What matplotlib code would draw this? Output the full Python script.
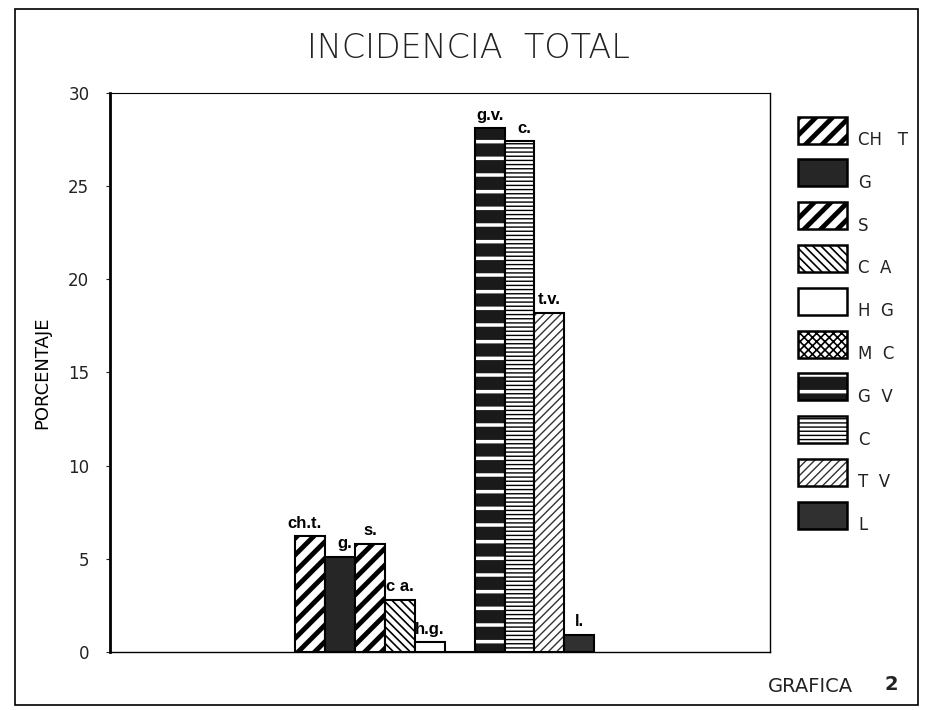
import numpy as np
import matplotlib
matplotlib.use("Agg")
import matplotlib.pyplot as plt
from matplotlib.patches import Rectangle

legend_labels = ["CH   T", "G", "S", "C  A", "H  G", "M  C", "G  V", "C", "T  V", "L"]
bar_labels = ["ch.t.", "g.", "s.", "c a.", "h.g.", "", "g.v.", "c.", "t.v.", "l."]
values = [6.2, 5.1, 5.8, 2.8, 0.5, 0.0, 28.1, 27.4, 18.2, 0.9]

# fill style per category
faces = ["white", "#262626", "white", "white", "white", "white", "#1a1a1a", "white", "white", "#303030"]
hatches = ["//", None, "//", "\\\\\\\\", None, "xxxx", "-", "----", "////", None]
hatch_colors = ["black", "black", "black", "black", "black", "black", "white", "black", "#333333", "black"]
hatch_lw = [3.5, 1, 3.5, 1.2, 1, 1.2, 2.5, 1.0, 1.0, 1]

plt.rcParams["font.family"] = ["DejaVu Sans"]

fig = plt.figure(figsize=(9.26, 7.1), dpi=100)
ax = fig.add_axes([0.119, 0.082, 0.713, 0.787])

x = np.arange(len(values))
for i in x:
    with plt.rc_context({"hatch.linewidth": hatch_lw[i]}):
        ax.bar(x[i], values[i], width=1.0, color=faces[i], hatch=hatches[i],
               edgecolor=hatch_colors[i], linewidth=0)
    ax.bar(x[i], values[i], width=1.0, facecolor="none", edgecolor="black", linewidth=1.5)

for i in x:
    if bar_labels[i]:
        dx = 0.15 if bar_labels[i] in ("g.", "c.") else (-0.2 if bar_labels[i] == "ch.t." else 0)
        ax.text(x[i] + dx, values[i] + 0.3, bar_labels[i], ha="center", va="bottom",
                fontsize=12, fontweight="bold", family="Liberation Sans")

ax.set_xlim(-6.7, 15.4)
ax.set_ylim(0, 30)
ax.set_yticks([0, 5, 10, 15, 20, 25, 30])
ax.set_xticks([])
ax.tick_params(axis="y", labelsize=12, colors="#222222", length=3, pad=12)
ax.spines["left"].set_linewidth(2)
ax.spines["bottom"].set_linewidth(1)
ax.spines["top"].set_linewidth(0.8)
ax.spines["right"].set_linewidth(1)
ax.set_ylabel("PORCENTAJE", fontsize=13, labelpad=12)

fig.text(468 / 926, 1 - 48 / 710, "INCIDENCIA  TOTAL", fontsize=24, ha="center", va="center",
         fontweight="light", color="#222222")

# legend drawn by hand: swatch + label per category
W, H = 926, 710
for i, lab in enumerate(legend_labels):
    yc = 130 + 42.8 * i
    x0, y0 = 798 / W, 1 - (yc + 13.5) / H
    w, h = 49 / W, 27 / H
    with plt.rc_context({"hatch.linewidth": hatch_lw[i]}):
        fig.add_artist(Rectangle((x0, y0), w, h, transform=fig.transFigure, facecolor=faces[i],
                                 hatch=hatches[i], edgecolor=hatch_colors[i], linewidth=0))
    fig.add_artist(Rectangle((x0, y0), w, h, transform=fig.transFigure, fill=False,
                             edgecolor="black", linewidth=1.8))
    fig.text(858 / W, 1 - (yc + 10) / H, lab, fontsize=12, va="center", color="#222222")

fig.text(768 / W, 1 - 686 / H, "GRAFICA", fontsize=14, va="center", color="#222222")
fig.text(885 / W, 1 - 684 / H, "2", fontsize=14, va="center", fontweight="bold", color="#222222")
fig.add_artist(Rectangle((0.016, 0.007), 0.975, 0.98, transform=fig.transFigure,
                         fill=False, edgecolor="black", linewidth=1.2))

fig.savefig("out.png", dpi=100)
